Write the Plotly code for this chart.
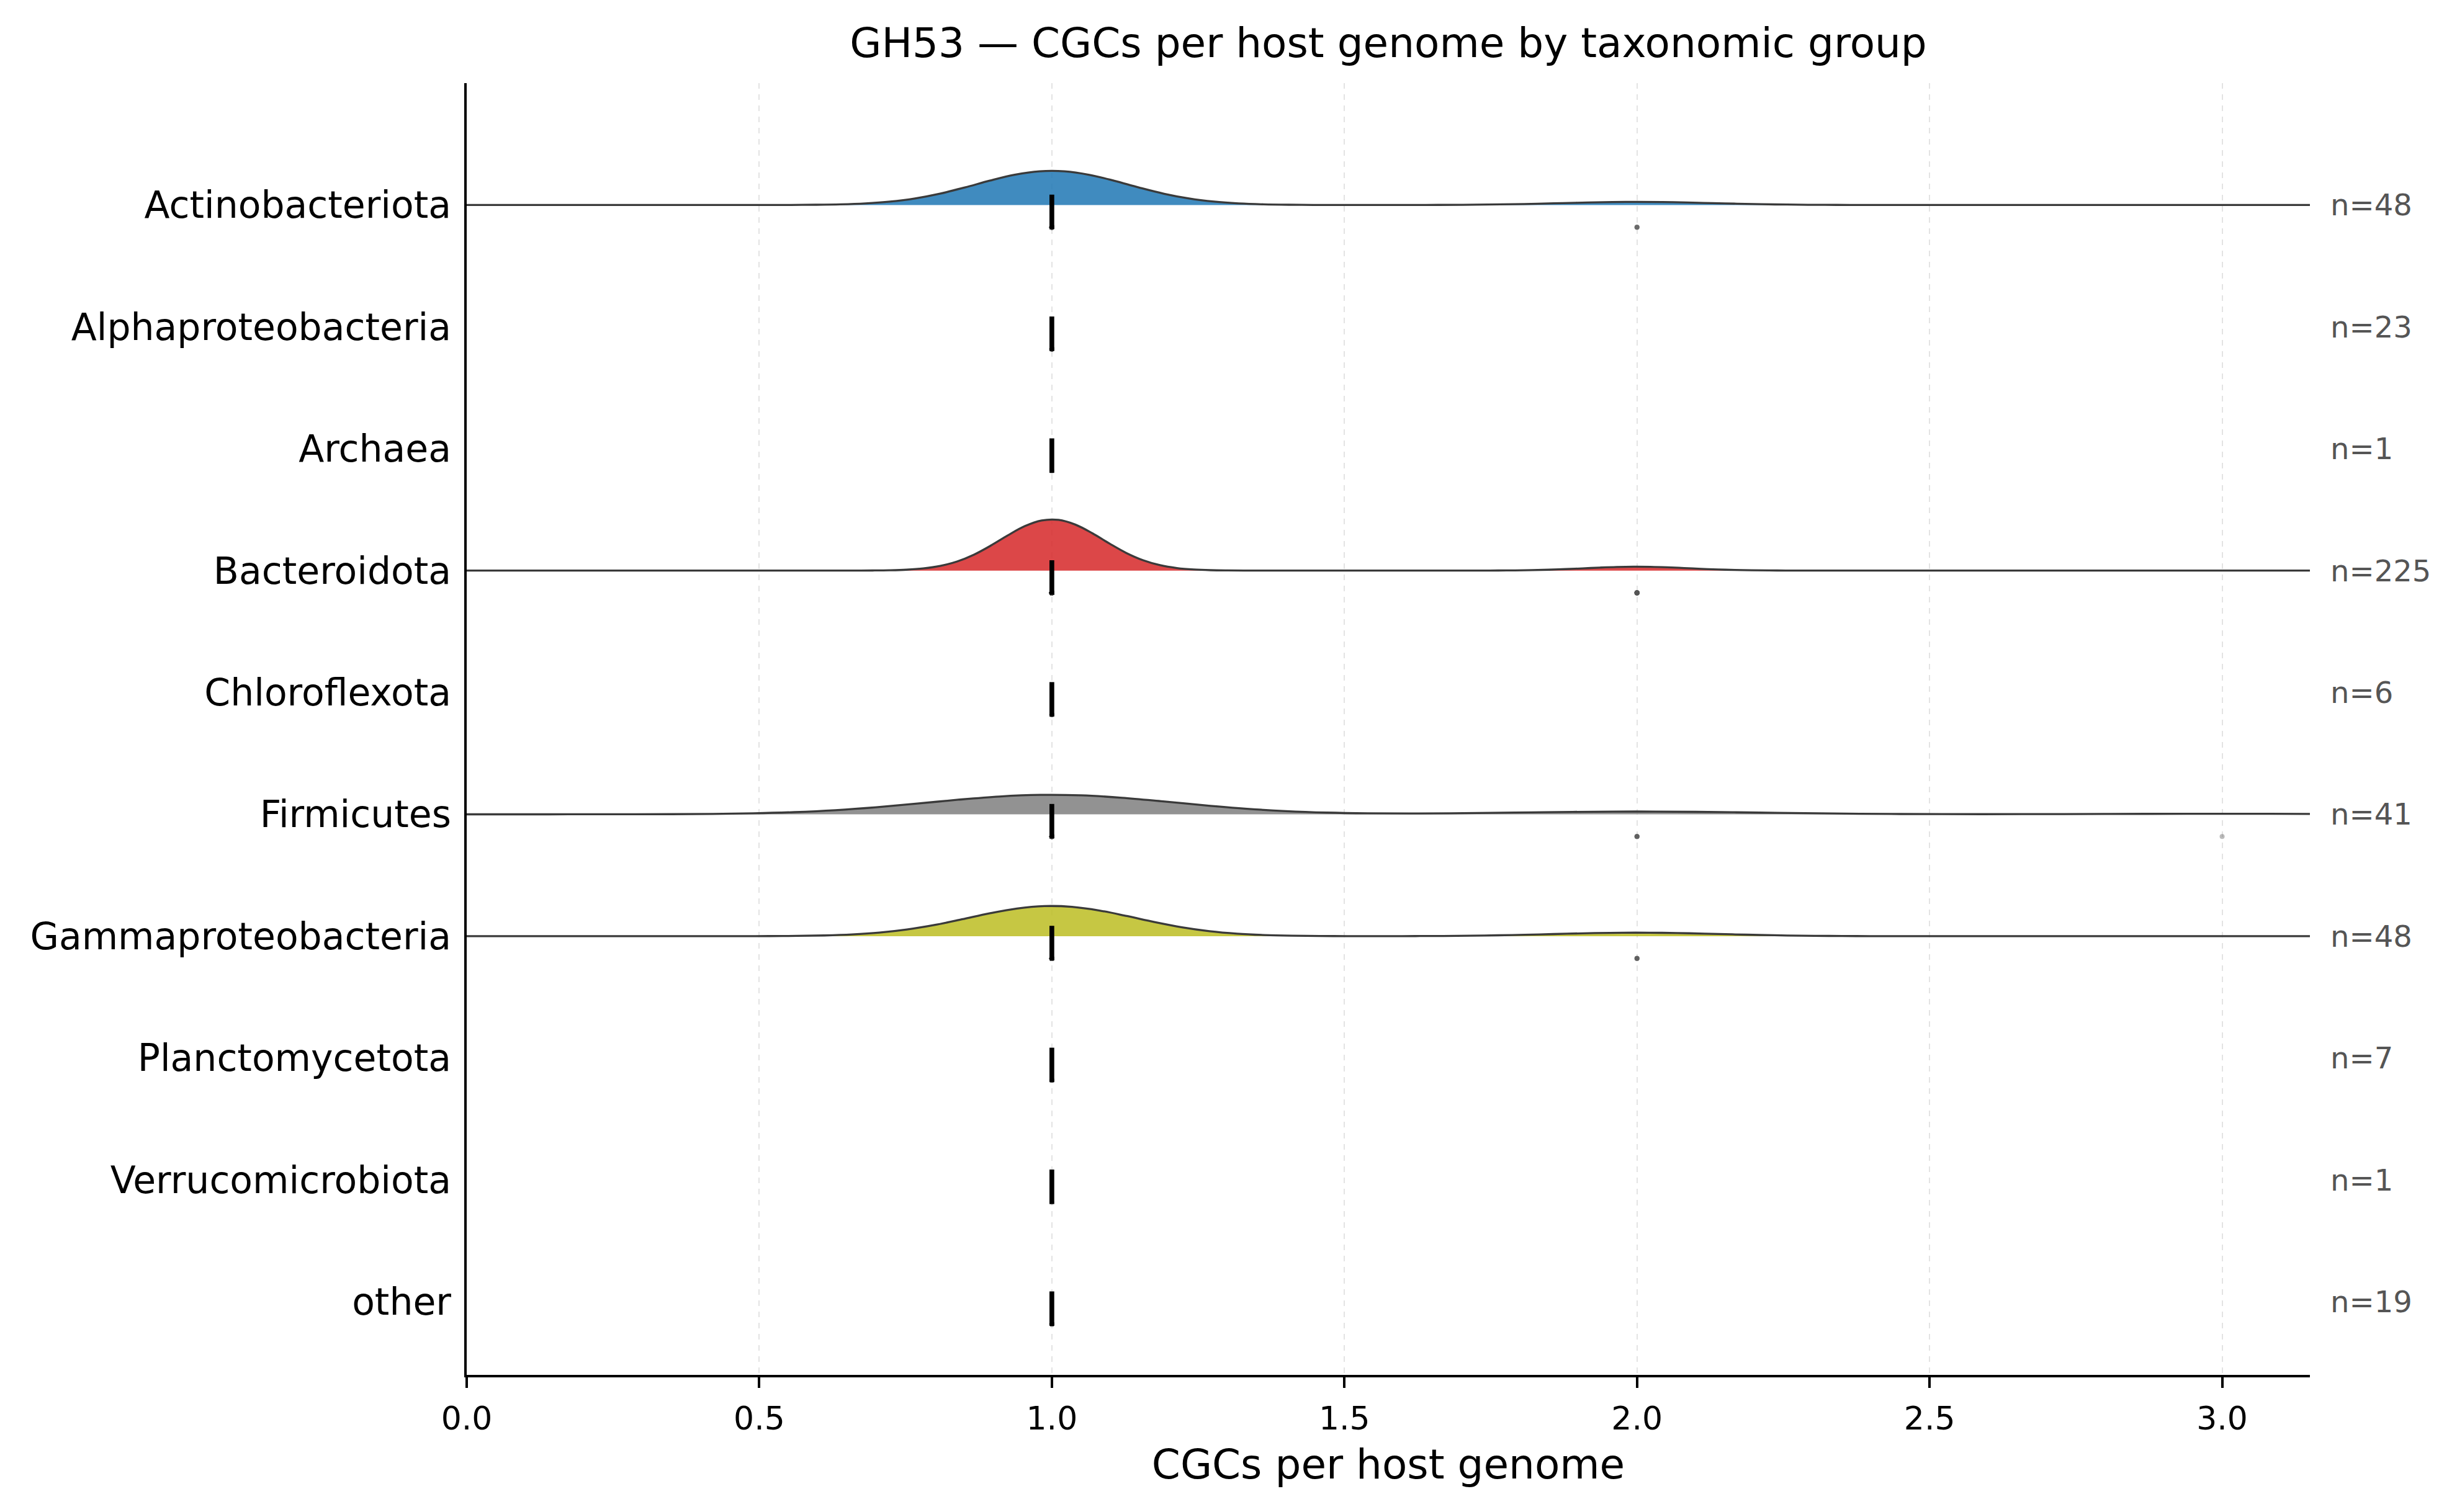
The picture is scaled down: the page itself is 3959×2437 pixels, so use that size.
import numpy as np
import plotly.graph_objects as go

# groups in display order (top to bottom) and per-genome CGC counts
groups = ["Actinobacteriota", "Alphaproteobacteria", "Archaea", "Bacteroidota",
          "Chloroflexota", "Firmicutes", "Gammaproteobacteria", "Planctomycetota",
          "Verrucomicrobiota", "other"]
# number of host genomes carrying 1, 2 or 3 GH53 CGCs
genomes_with_1 = [44, 23, 1, 209, 6, 35, 43, 7, 1, 19]
genomes_with_2 = [4, 0, 0, 16, 0, 5, 5, 0, 0, 0]
genomes_with_3 = [0, 0, 0, 0, 0, 1, 0, 0, 0, 0]
cgc_values = [1, 2, 3]

fill_colors = {
    "Actinobacteriota": "rgba(31,119,180,0.85)",
    "Bacteroidota": "rgba(214,39,40,0.85)",
    "Firmicutes": "rgba(127,127,127,0.85)",
    "Gammaproteobacteria": "rgba(188,189,34,0.85)",
}

xmax = 3.15
font = "DejaVu Sans"

fig = go.Figure()

for i, g in enumerate(groups):
    vals = np.repeat(cgc_values, [genomes_with_1[i], genomes_with_2[i], genomes_with_3[i]]).astype(float)
    n = len(vals)
    # ridge only where there is some spread (scott bandwidth like gaussian_kde)
    if n > 1 and np.unique(vals).size > 1:
        bw = vals.std(ddof=1) * n ** (-0.2)
        fig.add_trace(go.Violin(
            x=vals, y0=i, orientation="h", side="negative",
            spanmode="manual", span=[0, xmax], bandwidth=bw,
            scalegroup="all", scalemode="width",
            points=False, box_visible=False, meanline_visible=False,
            fillcolor=fill_colors.get(g, "rgba(127,127,127,0.85)"),
            line=dict(color="#3a3a3a", width=3.3),
            hoverinfo="skip", showlegend=False))
    # raw points just under the baseline
    fig.add_trace(go.Scatter(
        x=vals, y=np.full(n, i + 0.182), mode="markers",
        marker=dict(size=8, color="#555555", opacity=0.4, line=dict(width=0)),
        hoverinfo="skip", showlegend=False))
    # median tick
    med = np.median(vals)
    fig.add_trace(go.Scatter(
        x=[med, med], y=[i - 0.085, i + 0.198], mode="lines",
        line=dict(color="black", width=7.7),
        hoverinfo="skip", showlegend=False))
    fig.add_annotation(
        x=1.0104, xref="paper", y=i, yref="y", text="n={:d}".format(n),
        showarrow=False, xanchor="left", yanchor="middle",
        font=dict(family=font, size=48, color="#555555"))

# page body has an 8px margin, so the figure is shrunk by that much
fig.update_layout(
    width=3943, height=2421,
    margin=dict(l=744, r=229, t=126, b=213),
    plot_bgcolor="white", paper_bgcolor="white",
    font=dict(family=font, color="black"),
    violinmode="overlay", violingap=0.168, violingroupgap=0,
    title=dict(text="GH53 — CGCs per host genome by taxonomic group",
               x=0.5, xref="paper", xanchor="center",
               y=1 - 61 / 2421, yref="container", yanchor="middle",
               font=dict(family=font, size=66, color="black")),
)
fig.update_xaxes(
    range=[0, xmax], dtick=0.5, tick0=0, tickformat=".1f",
    ticks="outside", ticklen=17, tickwidth=4, tickcolor="black",
    showline=True, linecolor="black", linewidth=4,
    showgrid=True, gridcolor="#e3e3e3", gridwidth=2, griddash="dash",
    zeroline=False, ticklabelstandoff=5,
    tickfont=dict(family=font, size=52, color="black"),
    title=dict(text="CGCs per host genome", standoff=22,
               font=dict(family=font, size=66, color="black")))
fig.update_yaxes(
    range=[9.6, -1.0], tickvals=list(range(len(groups))), ticktext=groups,
    ticks="", showline=True, linecolor="black", linewidth=4,
    showgrid=False, zeroline=False, ticklabelstandoff=9,
    tickfont=dict(family=font, size=60, color="black"))

fig.write_html("out.html")
